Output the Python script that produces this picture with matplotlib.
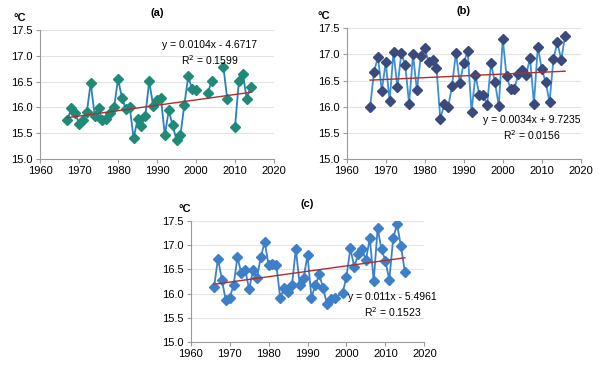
import numpy as np
import matplotlib
matplotlib.use("Agg")
import matplotlib.pyplot as plt

plt.rcParams["font.family"] = ["Liberation Sans", "DejaVu Sans"]

nan = np.nan

# panel (a)
years_a = list(range(1967, 2015))
temp_a = [15.75, 15.98, 15.90, 15.68, 15.76, 15.91, 16.48, 15.84, 15.98, 15.76,
          15.78, 15.90, 16.00, 16.55, 16.19, 15.96, 16.00, 15.40, 15.77, 15.64,
          15.84, 16.51, 16.03, 16.14, 16.18, 15.46, 15.94, 15.65, 15.37, 15.46,
          16.05, 16.60, 16.35, 16.34, nan, nan, 16.27, 16.52, nan, nan,
          16.79, 16.16, nan, 15.62, 16.52, 16.65, 16.17, 16.40]

# panel (b)
years_b = list(range(1966, 2017))
temp_b = [15.99, 16.67, 16.95, 16.31, 16.85, 16.11, 17.05, 16.37, 17.02, 16.80,
          16.06, 17.00, 16.32, 16.97, 17.13, 16.85, 16.89, 16.75, 15.77, 16.05,
          15.99, 16.40, 17.03, 16.46, 16.83, 17.07, 15.91, 16.61, 16.23, 16.23,
          16.04, 16.83, 16.47, 16.02, 17.30, 16.58, 16.35, 16.35, 16.63, 16.70,
          16.60, 16.94, 16.06, 17.15, 16.72, 16.48, 16.09, 16.91, 17.23, 16.90,
          17.36]

# panel (c), no value for 1998
years_c = [1966, 1967, 1968, 1969, 1970, 1971, 1972, 1973, 1974, 1975, 1976,
           1977, 1978, 1979, 1980, 1981, 1982, 1983, 1984, 1985, 1986, 1987,
           1988, 1989, 1990, 1991, 1992, 1993, 1994, 1995, 1996, 1997, 1999,
           2000, 2001, 2002, 2003, 2004, 2005, 2006, 2007, 2008, 2009, 2010,
           2011, 2012, 2013, 2014, 2015]
temp_c = [16.14, 16.72, 16.29, 15.86, 15.92, 16.17, 16.75, 16.42, 16.49, 16.09,
          16.48, 16.32, 16.75, 17.07, 16.58, 16.60, 16.58, 15.91, 16.12, 16.03,
          16.17, 16.92, 16.17, 16.33, 16.79, 15.92, 16.17, 16.40, 16.12, 15.78,
          15.89, 15.92, 16.01, 16.35, 16.93, 16.55, 16.81, 16.91, 16.69, 17.14,
          16.26, 17.34, 16.91, 16.68, 16.28, 17.14, 17.43, 16.97, 16.45]

equations = ["y = 0.0104x - 4.6717\nR$^2$ = 0.1599",
             "y = 0.0034x + 9.7235\nR$^2$ = 0.0156",
             "y = 0.011x - 5.4961\nR$^2$ = 0.1523"]
titles = ["(a)", "(b)", "(c)"]


def draw_panel(ax, years, temps, title, eq, line_color, marker_color, eq_pos, unit_x):
    x = np.array(years, dtype=float)
    y = np.array(temps, dtype=float)
    ax.plot(x, y, color=line_color, lw=1.3, marker="D", ms=4.8,
            mfc=marker_color, mec=marker_color, zorder=3)
    ok = ~np.isnan(y)
    k, b = np.polyfit(x[ok], y[ok], 1)
    xs = np.array([x[ok][0], x[ok][-1]])
    ax.plot(xs, k * xs + b, color="#B22C2C", lw=1.0, zorder=4)

    ax.set_xlim(1960, 2020)
    ax.set_ylim(15.0, 17.5)
    ax.set_xticks(range(1960, 2021, 10))
    ax.set_yticks(np.arange(15.0, 17.51, 0.5))
    ax.set_yticklabels(["%.1f" % v for v in np.arange(15.0, 17.51, 0.5)])
    ax.grid(axis="y", color="#E3E3E3", lw=0.8)
    ax.set_axisbelow(True)
    for s in ["top", "right"]:
        ax.spines[s].set_visible(False)
    for s in ["left", "bottom"]:
        ax.spines[s].set_color("#9A9A9A")
        ax.spines[s].set_linewidth(0.8)
    ax.tick_params(labelsize=8, color="#9A9A9A", length=3, width=0.8, pad=2)
    ax.set_title(title, fontsize=8, fontweight="bold", pad=10)
    ax.text(unit_x, 1.055, "°C", transform=ax.transAxes, fontsize=8,
            fontweight="bold", ha="center", va="bottom")
    ax.text(eq_pos[0], eq_pos[1], eq, transform=ax.transAxes, fontsize=7.5,
            ha="center", va="center", linespacing=1.3)


fig = plt.figure(figsize=(5.99, 3.66), dpi=100)

ax_a = fig.add_axes([0.0668, 0.5656, 0.3907, 0.3525])
draw_panel(ax_a, years_a, temp_a, titles[0], equations[0],
           "#2A7FC0", "#1F8A78", (0.725, 0.82), -0.085)

ax_b = fig.add_axes([0.5788, 0.5648, 0.3907, 0.3579])
draw_panel(ax_b, years_b, temp_b, titles[1], equations[1],
           "#3B8FD4", "#3A4A7C", (0.79, 0.235), -0.1)

ax_c = fig.add_axes([0.3184, 0.0648, 0.3900, 0.3322])
draw_panel(ax_c, years_c, temp_c, titles[2], equations[2],
           "#3E80C8", "#3E80C8", (0.865, 0.30), -0.025)

fig.savefig("out.png", dpi=100)
